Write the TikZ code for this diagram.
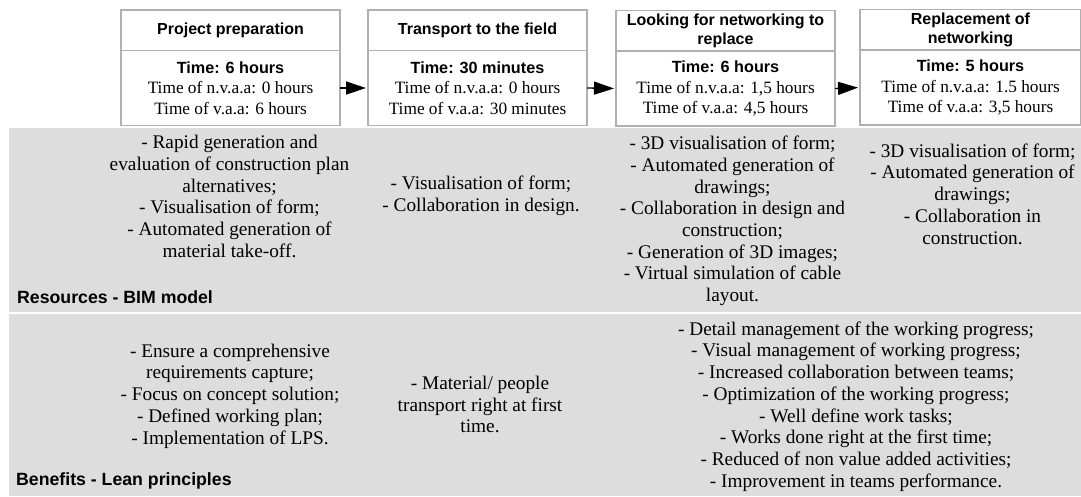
\documentclass[tikz,border=0pt]{standalone}
\usepackage{fontspec}
\setmainfont{Liberation Serif}
\newfontfamily\hdfont{Liberation Sans}
\usetikzlibrary{arrows.meta}
\newcommand{\tmline}[1]{{\hdfont\bfseries\fontsize{16.2}{20.5}\selectfont #1}}
\tikzset{
  x=1pt,y=-1pt,
  band/.style={fill=bandgrey,draw=none},
  boxpart/.style={draw=boxgrey,line width=1.2pt,fill=white,minimum width=219pt,inner sep=0pt,outer sep=0pt,align=center},
  head/.style={boxpart,minimum height=41pt,font=\hdfont\bfseries\fontsize{16}{19.5}\selectfont},
  body/.style={boxpart,minimum height=75pt,font=\fontsize{17.3}{20.4}\selectfont},
  txt/.style={align=center,inner sep=0pt,font=\fontsize{19.3}{21.7}\selectfont},
  lab/.style={anchor=west,inner sep=0pt,font=\hdfont\bfseries\fontsize{17.7}{20}\selectfont},
  flow/.style={-{Triangle[length=20pt,width=13pt]},line width=1.3pt,shorten >=2pt}
}
\definecolor{bandgrey}{HTML}{DDDDDD}
\definecolor{boxgrey}{HTML}{B0B0B0}
\begin{document}
\begin{tikzpicture}
\useasboundingbox (0,0) rectangle (1081,496);
\fill[white] (0,0) rectangle (1081,496);
\fill[band] (9,128) rectangle (1081,312);
\fill[band] (9,314) rectangle (1081,496);

\node[head] (h1) at (230.5,30.5) {Project preparation};
\node[body] (b1) at (230.5,88) {\tmline{Time: 6 hours}\\Time of n.v.a.a: 0 hours\\Time of v.a.a: 6 hours};
\node[head] (h2) at (477.5,30.5) {Transport to the field};
\node[body] (b2) at (477.5,88) {\tmline{Time: 30 minutes}\\Time of n.v.a.a: 0 hours\\Time of v.a.a: 30 minutes};
\node[head] (h3) at (725.5,31) {Looking for networking to\\replace};
\node[body] (b3) at (725.5,88.5) {\tmline{Time: 6 hours}\\Time of n.v.a.a: 1,5 hours\\Time of v.a.a: 4,5 hours};
\node[head,minimum width=221pt] (h4) at (970.5,30) {Replacement of\\networking};
\node[body,minimum width=221pt] (b4) at (970.5,87.5) {\tmline{Time: 5 hours}\\Time of n.v.a.a: 1.5 hours\\Time of v.a.a: 3,5 hours};

\draw[flow] (b1.east) -- (b2.west);
\draw[flow] (b2.east) -- (b3.west);
\draw[flow] (b3.east) -- (b4.west);

\node[txt] (r1) at (229.5,196.5) {- Rapid generation and\\evaluation of construction plan\\alternatives;\\- Visualisation of form;\\- Automated generation of\\material take-off.};
\node[txt] (r2) at (481,195.5) {- Visualisation of form;\\- Collaboration in design.};
\node[txt] (r3) at (732.5,221) {- 3D visualisation of form;\\- Automated generation of\\drawings;\\- Collaboration in design and\\construction;\\- Generation of 3D images;\\- Virtual simulation of cable\\layout.};
\node[txt] (r4) at (972.5,194) {- 3D visualisation of form;\\- Automated generation of\\drawings;\\- Collaboration in\\construction.};
\node[lab] (lr) at (17,297) {Resources - BIM model};

\node[txt] (e1) at (230,396) {- Ensure a comprehensive\\requirements capture;\\- Focus on concept solution;\\- Defined working plan;\\- Implementation of LPS.};
\node[txt] (e2) at (480,404.5) {- Material/ people\\transport right at first\\time.};
\node[txt] (e3) at (856,406.5) {- Detail management of the working progress;\\- Visual management of working progress;\\- Increased collaboration between teams;\\- Optimization of the working progress;\\- Well define work tasks;\\- Works done right at the first time;\\- Reduced of non value added activities;\\- Improvement in teams performance.};
\node[lab] (lb) at (16,481) {Benefits - Lean principles};
\end{tikzpicture}
\end{document}
